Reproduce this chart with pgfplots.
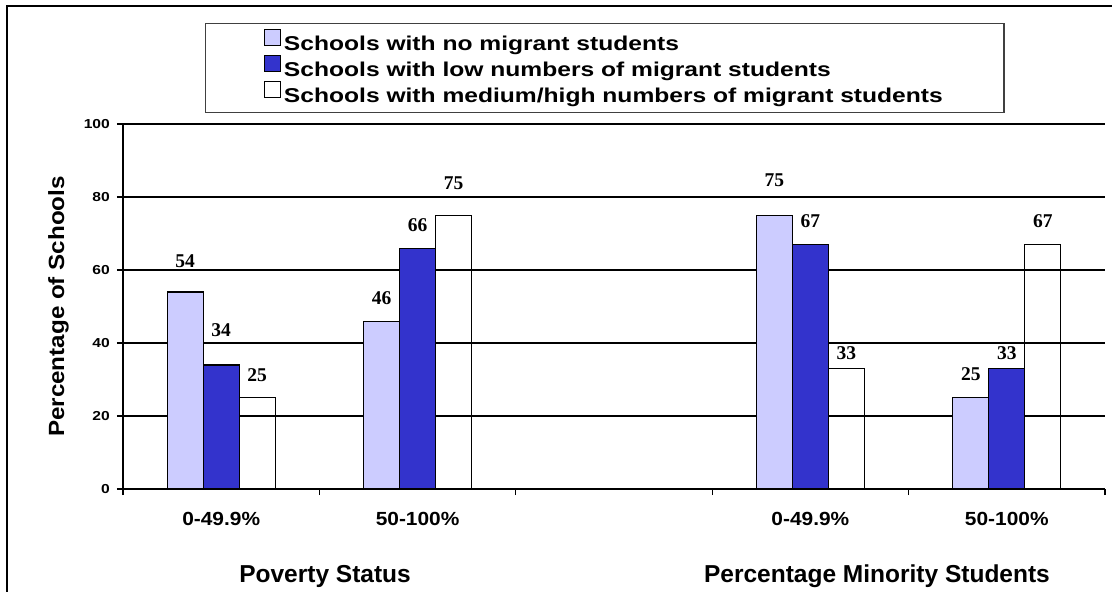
\documentclass[border=0pt]{standalone}
\usepackage{fontspec}
\setmainfont{Liberation Sans}
\newfontfamily\legfont{Liberation Sans}[FakeStretch=1.23]
\newfontfamily\tickfont{Liberation Sans}[FakeStretch=1.2]
\newfontfamily\labfont{Liberation Sans}[FakeStretch=1.1]
\newfontfamily\valfont{Liberation Serif}
\usepackage{pgfplots}
\pgfplotsset{compat=1.18}
\definecolor{lightb}{HTML}{CCCCFF}
\definecolor{darkb}{HTML}{3333CC}
\begin{document}
\begin{tikzpicture}[x=1pt,y=1pt]
\useasboundingbox (0,0) rectangle (1112,-592);
\draw[line width=1.8pt] (7,-640) -- (7,-6) -- (1160,-6);
\begin{axis}[
  at={(123pt,-489pt)}, anchor=south west,
  scale only axis, width=982pt, height=365pt,
  xmin=0, xmax=5, ymin=0, ymax=100,
  clip=false,
  axis lines=left, axis line style={-, line width=1.4pt, black},
  ytick={0,20,40,60,80,100},
  ymajorgrids, grid style={black, line width=1.2pt},
  xtick={0,1,2,3,4,5}, xticklabels={,,,,,},
  extra x ticks={0.5,1.5,3.5,4.5},
  extra x tick labels={0-49.9\%,50-100\%,0-49.9\%,50-100\%},
  extra x tick style={tick style={draw=none}, tick label style={anchor=center, yshift=-24pt}},
  tick align=outside, major tick length=6pt,
  tick style={black, line width=1.2pt},
  /pgf/number format/assume math mode=true,
  xticklabel style={font=\labfont\bfseries\fontsize{19}{22}\selectfont},
  yticklabel style={font=\tickfont\bfseries\fontsize{13}{15}\selectfont, inner sep=0pt, xshift=-7pt},
  ylabel={Percentage of Schools},
  ylabel style={at={(axis description cs:-0.0657,0.5)}, anchor=center, font=\labfont\bfseries\fontsize{22}{26}\selectfont},
  legend style={at={(0.0835,1.2767)}, anchor=north west, draw=black!75, line width=1.2pt,
    inner xsep=58pt, inner ysep=5pt, font=\legfont\bfseries\fontsize{20}{24}\selectfont,
    nodes={inner sep=3.2pt}, row sep=0pt},
  legend cell align=left,
  legend image code/.code={\draw[#1, line width=1.2pt] (0pt,-1.5pt) rectangle (16pt,14.5pt);},
]
\addplot[ybar, bar width=36pt, bar shift=-36pt, fill=lightb, draw=black, line width=1.2pt]
  coordinates {(0.5,54) (1.5,46) (3.5,75) (4.5,25)};
\addplot[ybar, bar width=36pt, bar shift=0pt, fill=darkb, draw=black, line width=1.2pt]
  coordinates {(0.5,34) (1.5,66) (3.5,67) (4.5,33)};
\addplot[ybar, bar width=36pt, bar shift=36pt, fill=none, draw=black, line width=1.2pt]
  coordinates {(0.5,25) (1.5,75) (3.5,33) (4.5,67)};
\legend{Schools with no migrant students, Schools with low numbers of migrant students, Schools with medium/high numbers of migrant students}
\addplot[draw=none, mark=none, forget plot, nodes near coords, point meta=explicit symbolic,
  nodes near coords align=center,
  every node near coord/.append style={font=\valfont\bfseries\fontsize{19.5}{22}\selectfont, inner sep=0pt, anchor=center}]
  table[x=x, y=y, meta=lab] {
x y lab
0.3167 62.5 54
0.5 43.6 34
0.6833 31.2 25
1.3167 52.3 46
1.5 72.3 66
1.6833 83.8 75
3.3167 84.5 75
3.5 73.4 67
3.6833 37.3 33
4.3167 31.6 25
4.5 37.3 33
4.6833 73.4 67
};
\node[anchor=base, font=\bfseries\fontsize{24.5}{28}\selectfont] at (axis cs:1.029,-25.5) {Poverty Status};
\node[anchor=base, font=\bfseries\fontsize{24.5}{28}\selectfont] at (axis cs:3.839,-25.5) {Percentage Minority Students};
\end{axis}
\end{tikzpicture}
\end{document}
